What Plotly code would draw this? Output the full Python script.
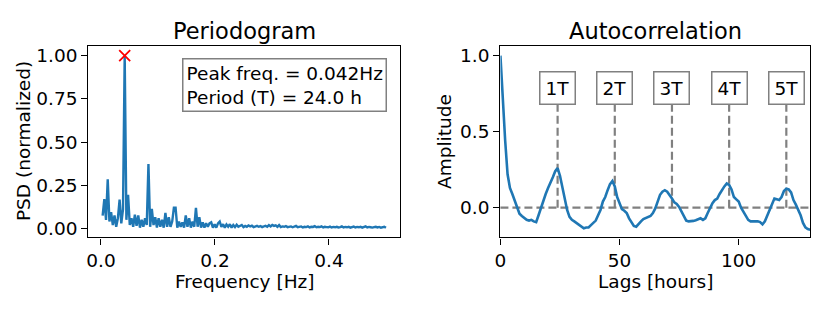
import plotly.graph_objects as go

# ---------------- data ----------------
N_HOURS = 336  # record length -> frequency bins k / N_HOURS
psd_norm = [
    0.075, 0.17, 0.05, 0.285, 0.04, 0.094, 0.02, 0.075, 0.01, 0.06,
    0.167, 0.03, 0.11, 1.0, 0.05, 0.195, 0.02, 0.06, 0.01, 0.08,
    0.015, 0.075, 0.005, 0.05, 0.01, 0.06, 0.02, 0.373, 0.01, 0.113,
    0.02, 0.065, 0.005, 0.06, 0.01, 0.05, 0.005, 0.09, 0.01, 0.065,
    0.01, 0.04, 0.12, 0.12, 0.005, 0.04, 0.01, 0.035, 0.005, 0.075,
    0.01, 0.06, 0.005, 0.04, 0.01, 0.12, 0.01, 0.065, 0.005, 0.035,
    0.005, 0.03, 0.01, 0.03, 0.036, 0.005, 0.025, 0.005, 0.03, 0.04,
    0.01, 0.025, 0.005, 0.023, 0.01, 0.025, 0.005, 0.02, 0.008, 0.022,
    0.01, 0.015, 0.02, 0.008, 0.015, 0.01, 0.018, 0.012, 0.016, 0.008,
    0.012, 0.015, 0.01, 0.014, 0.008, 0.012, 0.016, 0.01, 0.02, 0.012,
    0.02, 0.015, 0.018, 0.01, 0.02, 0.008, 0.012, 0.01, 0.014, 0.008,
    0.01, 0.012, 0.007, 0.01, 0.015, 0.008, 0.01, 0.012, 0.006, 0.01,
    0.008, 0.012, 0.006, 0.01, 0.009, 0.014, 0.007, 0.01, 0.008, 0.012,
    0.006, 0.01, 0.008, 0.007, 0.011, 0.006, 0.009, 0.007, 0.01, 0.006,
    0.008, 0.012, 0.006, 0.009, 0.007, 0.01, 0.005, 0.008, 0.011, 0.006,
    0.009, 0.007, 0.01, 0.005, 0.008, 0.012, 0.006, 0.009, 0.007, 0.005,
    0.008, 0.01, 0.006, 0.009, 0.005, 0.007, 0.01, 0.004,
]
freq_hz = [k / N_HOURS for k in range(1, len(psd_norm) + 1)]

peak_freq = 1 / 24
peak_psd = 1.0
period_h = 24.0

acf = [
    1.0, 0.70, 0.44, 0.22, 0.13, 0.09, 0.05, 0.0, -0.04, -0.055,
    -0.07, -0.08, -0.085, -0.08, -0.09, -0.095, -0.05, 0.0, 0.05, 0.09,
    0.13, 0.16, 0.2, 0.24, 0.26, 0.21, 0.14, 0.05, -0.015, -0.06,
    -0.08, -0.09, -0.1, -0.115, -0.125, -0.135, -0.13, -0.13, -0.115, -0.1,
    -0.085, -0.05, -0.015, 0.04, 0.07, 0.115, 0.155, 0.175, 0.14, 0.07,
    0.025, -0.01, -0.02, -0.035, -0.07, -0.1, -0.12, -0.125, -0.105, -0.09,
    -0.075, -0.07, -0.065, -0.055, -0.035, -0.005, 0.04, 0.085, 0.105, 0.115,
    0.105, 0.085, 0.06, 0.035, 0.025, 0.005, -0.025, -0.06, -0.085, -0.09,
    -0.09, -0.087, -0.083, -0.076, -0.07, -0.08, -0.07, -0.035, 0.0, 0.03,
    0.05, 0.06, 0.09, 0.12, 0.14, 0.16, 0.15, 0.12, 0.07, 0.055,
    0.04, 0.0, -0.03, -0.06, -0.08, -0.09, -0.09, -0.09, -0.09, -0.095,
    -0.11, -0.09, -0.05, -0.01, 0.03, 0.06, 0.055, 0.05, 0.07, 0.11,
    0.125, 0.12, 0.1, 0.05, 0.02, -0.01, -0.05, -0.1, -0.13, -0.14,
    -0.145,
]
lags = list(range(len(acf)))

multiple_labels = ["1T", "2T", "3T", "4T", "5T"]
multiples = [1, 2, 3, 4, 5]
marker_line_top = 0.684
label_y = 0.784

# ---------------- styling ----------------
# the page body has an 8px default margin, so the figure is shrunk by that
OFF = 8
W, H = 830 - OFF, 312 - OFF
BLUE = "#1f77b4"
GRAY = "#808080"
FONT = "DejaVu Sans"
TICK_FS = 18.5
TITLE_FS = 22.5


def px_x(p):
    return (p - OFF) / W


def px_y(p):
    return 1 - (p - OFF) / H


fig = go.Figure()

# Periodogram
fig.add_trace(go.Scatter(x=freq_hz, y=psd_norm, mode="lines",
                         line=dict(color=BLUE, width=2.4),
                         xaxis="x", yaxis="y", showlegend=False))
fig.add_trace(go.Scatter(x=[peak_freq], y=[peak_psd], mode="markers",
                         marker=dict(symbol="x-thin", size=11,
                                     line=dict(color="red", width=1.8)),
                         xaxis="x", yaxis="y", showlegend=False))

# Autocorrelation
fig.add_trace(go.Scatter(x=lags, y=acf, mode="lines",
                         line=dict(color=BLUE, width=2.6),
                         xaxis="x2", yaxis="y2", showlegend=False))

shapes = [dict(type="line", xref="x2 domain", yref="y2", x0=0, x1=1, y0=0, y1=0,
               line=dict(color=GRAY, width=2.2, dash="8px,4px"), layer="below")]
annotations = []
for m, lab in zip(multiples, multiple_labels):
    xm = m * period_h
    shapes.append(dict(type="line", xref="x2", yref="y2", x0=xm, x1=xm,
                       y0=0, y1=marker_line_top,
                       line=dict(color=GRAY, width=2.2, dash="8px,4px"),
                       layer="below"))
    annotations.append(dict(x=xm, y=label_y, xref="x2", yref="y2", text=lab,
                            showarrow=False, xanchor="center", yanchor="middle",
                            font=dict(family=FONT, size=TICK_FS, color="black"),
                            bgcolor="white", bordercolor=GRAY, borderwidth=1.5,
                            borderpad=5))

# Text box in periodogram
annotations.append(dict(
    x=px_x(177), y=px_y(57), xref="paper", yref="paper",
    xanchor="left", yanchor="top", align="left", showarrow=False,
    text=f"Peak freq. = {peak_freq:.3f}Hz<br>Period (T) = {period_h:.1f} h",
    font=dict(family=FONT, size=TICK_FS, color="black"),
    bgcolor="white", bordercolor=GRAY, borderwidth=1.5, borderpad=3))


def txt(x, y, s, size, angle=0):
    return dict(x=px_x(x), y=px_y(y), xref="paper", yref="paper", text=s,
                showarrow=False, xanchor="center", yanchor="middle",
                textangle=angle, font=dict(family=FONT, size=size, color="black"))


annotations += [
    txt(240, 30, "Periodogram", TITLE_FS),
    txt(654, 30, "Autocorrelation", TITLE_FS),
    txt(241, 282, "Frequency [Hz]", TICK_FS),
    txt(654, 282, "Lags [hours]", TICK_FS),
    txt(17, 141, "PSD (normalized)", TICK_FS, -90),
    txt(441, 141, "Amplitude", TICK_FS, -90),
]

axis_common = dict(showline=True, linecolor="black", linewidth=1.4, mirror=True,
                   ticks="outside", ticklen=6, tickwidth=1.4, tickcolor="black",
                   showgrid=False, zeroline=False,
                   tickfont=dict(family=FONT, size=TICK_FS, color="black"))

fig.update_layout(
    width=W, height=H, margin=dict(l=0, r=0, t=0, b=0),
    paper_bgcolor="white", plot_bgcolor="white",
    xaxis=dict(domain=[px_x(83), px_x(397)], range=[-0.0219, 0.5249],
               tickvals=[0.0, 0.2, 0.4], tickformat=".1f", anchor="y", **axis_common),
    yaxis=dict(domain=[px_y(238), px_y(45)], range=[-0.052, 1.057],
               tickvals=[0, 0.25, 0.5, 0.75, 1.0], tickformat=".2f", anchor="x",
               **axis_common),
    xaxis2=dict(domain=[px_x(498), px_x(810)], range=[0, 130],
                tickvals=[0, 50, 100], anchor="y2", **axis_common),
    yaxis2=dict(domain=[px_y(238), px_y(45)], range=[-0.196, 1.065],
                tickvals=[0, 0.5, 1.0], tickformat=".1f", anchor="x2", **axis_common),
    shapes=shapes, annotations=annotations,
)

fig.write_html("out.html")
